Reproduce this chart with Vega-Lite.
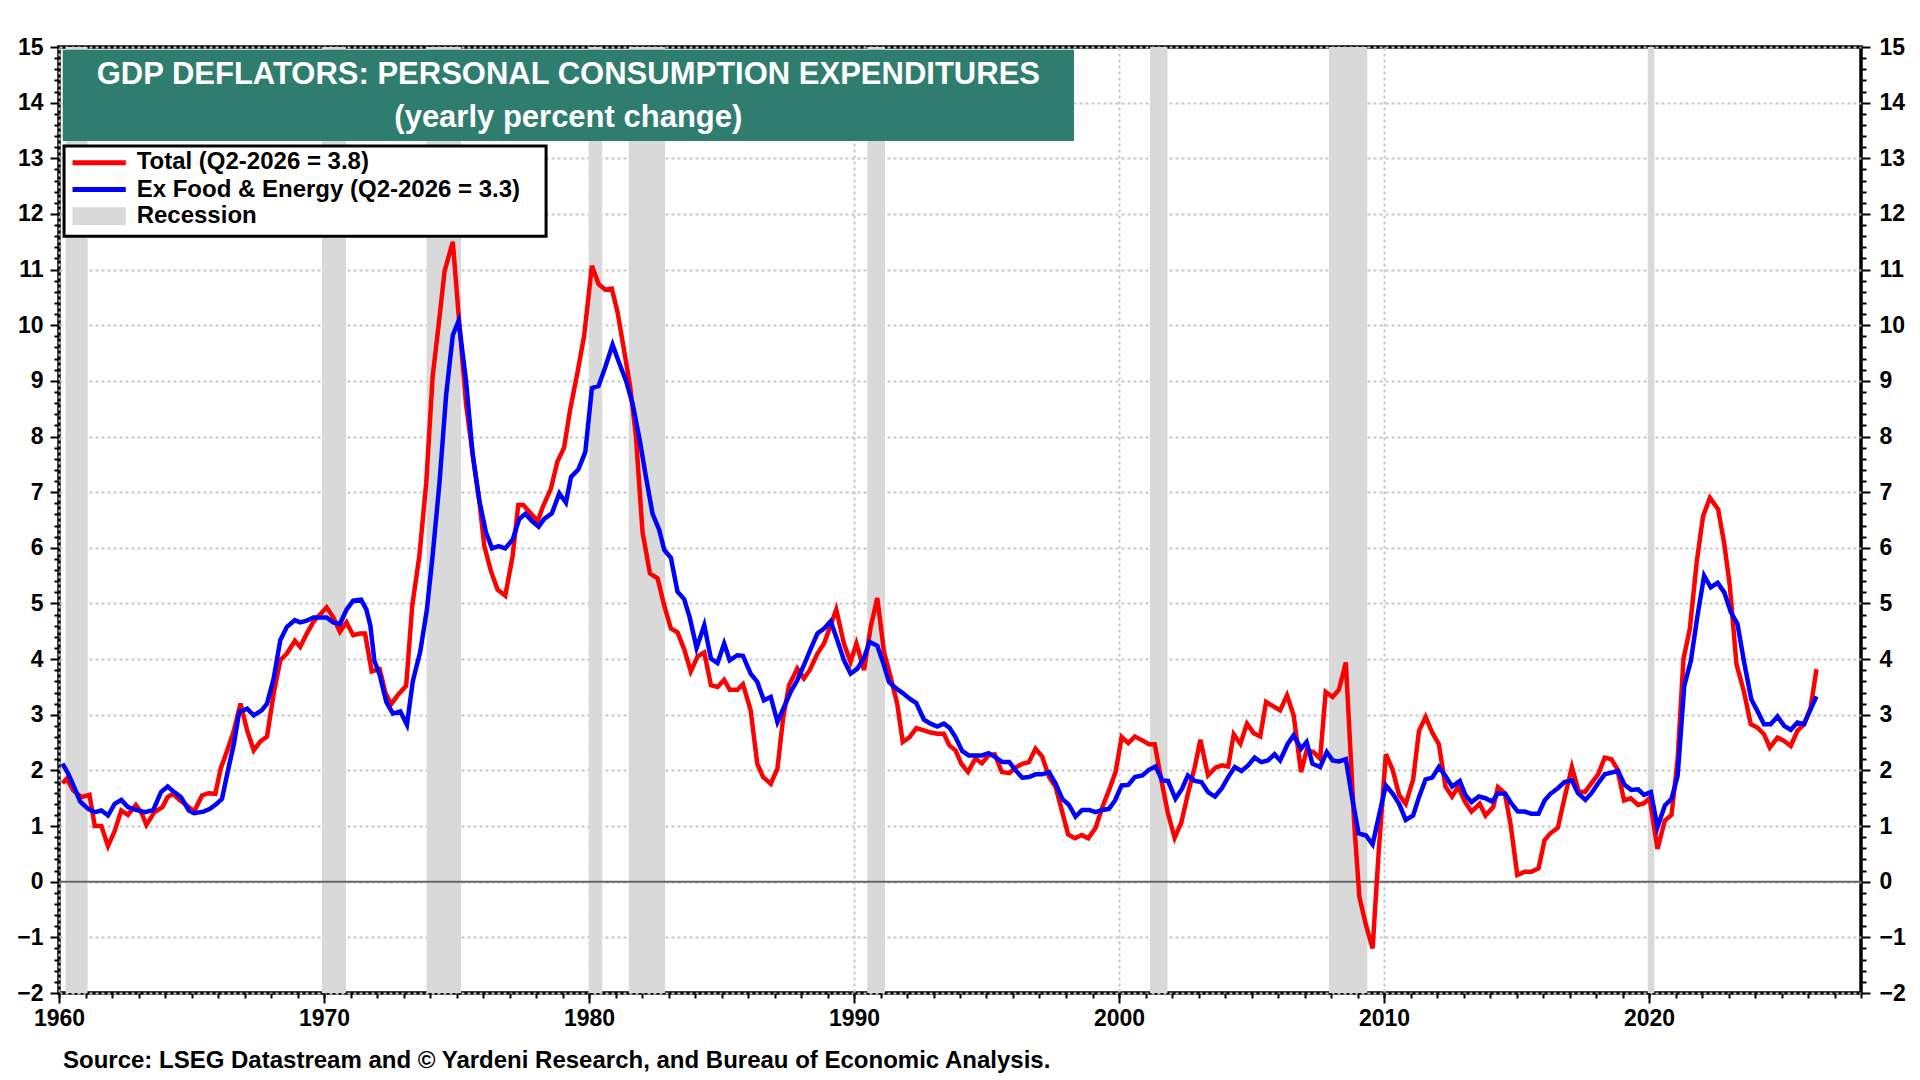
{
"$schema": "https://vega.github.io/schema/vega-lite/v6.json",
"width": 1802, "height": 946,
"autosize": {"type": "none"},
"padding": {"left": 59, "top": 47, "right": 59, "bottom": 87},
"background": "white",
"config": {"view": {"stroke": "black", "strokeWidth": 3.5}, "font": "Liberation Sans"},
"title": {"text": "Source: LSEG Datastream and © Yardeni Research, and Bureau of Economic Analysis.", "orient": "bottom", "anchor": "start", "frame": "group", "font": "Liberation Sans", "fontSize": 24, "fontWeight": "bold", "color": "black", "offset": 19, "dx": 4},
"datasets": {
"one": [{"k": 1}],
"rec": [{"start":1960.25,"end":1961.08},{"start":1969.92,"end":1970.83},{"start":1973.87,"end":1975.17},{"start":1980.0,"end":1980.5},{"start":1981.5,"end":1982.87},{"start":1990.5,"end":1991.17},{"start":2001.17,"end":2001.83},{"start":2007.92,"end":2009.37},{"start":2019.95,"end":2020.2}],
"total": [{"yr":1960.13,"val":1.77},{"yr":1960.29,"val":1.85},{"yr":1960.54,"val":1.64},{"yr":1960.85,"val":1.52},{"yr":1961.15,"val":1.56},{"yr":1961.35,"val":1.0},{"yr":1961.6,"val":1.0},{"yr":1961.85,"val":0.64},{"yr":1962.1,"val":0.91},{"yr":1962.35,"val":1.28},{"yr":1962.6,"val":1.2},{"yr":1962.9,"val":1.38},{"yr":1963.1,"val":1.25},{"yr":1963.3,"val":1.02},{"yr":1963.6,"val":1.25},{"yr":1963.9,"val":1.34},{"yr":1964.1,"val":1.52},{"yr":1964.3,"val":1.58},{"yr":1964.55,"val":1.47},{"yr":1964.8,"val":1.38},{"yr":1965.1,"val":1.26},{"yr":1965.4,"val":1.55},{"yr":1965.65,"val":1.59},{"yr":1965.9,"val":1.58},{"yr":1966.1,"val":2.03},{"yr":1966.35,"val":2.36},{"yr":1966.6,"val":2.72},{"yr":1966.85,"val":3.2},{"yr":1967.1,"val":2.72},{"yr":1967.35,"val":2.36},{"yr":1967.6,"val":2.52},{"yr":1967.85,"val":2.61},{"yr":1968.1,"val":3.38},{"yr":1968.35,"val":3.98},{"yr":1968.6,"val":4.1},{"yr":1968.9,"val":4.33},{"yr":1969.1,"val":4.22},{"yr":1969.35,"val":4.46},{"yr":1969.6,"val":4.67},{"yr":1969.85,"val":4.8},{"yr":1970.1,"val":4.93},{"yr":1970.35,"val":4.75},{"yr":1970.6,"val":4.49},{"yr":1970.85,"val":4.66},{"yr":1971.1,"val":4.43},{"yr":1971.35,"val":4.46},{"yr":1971.55,"val":4.46},{"yr":1971.8,"val":3.78},{"yr":1972.1,"val":3.82},{"yr":1972.32,"val":3.39},{"yr":1972.53,"val":3.19},{"yr":1972.78,"val":3.35},{"yr":1973.1,"val":3.52},{"yr":1973.33,"val":4.96},{"yr":1973.6,"val":5.86},{"yr":1973.86,"val":7.18},{"yr":1974.1,"val":9.08},{"yr":1974.36,"val":10.15},{"yr":1974.55,"val":10.97},{"yr":1974.86,"val":11.5},{"yr":1975.1,"val":10.07},{"yr":1975.36,"val":8.58},{"yr":1975.61,"val":7.68},{"yr":1975.86,"val":6.85},{"yr":1976.05,"val":6.03},{"yr":1976.3,"val":5.58},{"yr":1976.55,"val":5.25},{"yr":1976.84,"val":5.14},{"yr":1977.12,"val":5.86},{"yr":1977.33,"val":6.77},{"yr":1977.52,"val":6.77},{"yr":1977.8,"val":6.62},{"yr":1978.06,"val":6.48},{"yr":1978.27,"val":6.75},{"yr":1978.56,"val":7.06},{"yr":1978.81,"val":7.55},{"yr":1979.06,"val":7.8},{"yr":1979.28,"val":8.46},{"yr":1979.57,"val":9.16},{"yr":1979.82,"val":9.82},{"yr":1980.11,"val":11.07},{"yr":1980.36,"val":10.74},{"yr":1980.61,"val":10.64},{"yr":1980.86,"val":10.66},{"yr":1981.08,"val":10.23},{"yr":1981.3,"val":9.61},{"yr":1981.55,"val":8.91},{"yr":1981.77,"val":8.01},{"yr":1982.02,"val":6.28},{"yr":1982.3,"val":5.54},{"yr":1982.59,"val":5.45},{"yr":1982.84,"val":4.96},{"yr":1983.09,"val":4.55},{"yr":1983.34,"val":4.48},{"yr":1983.59,"val":4.18},{"yr":1983.84,"val":3.78},{"yr":1984.1,"val":4.05},{"yr":1984.35,"val":4.12},{"yr":1984.6,"val":3.53},{"yr":1984.85,"val":3.5},{"yr":1985.1,"val":3.63},{"yr":1985.31,"val":3.45},{"yr":1985.6,"val":3.45},{"yr":1985.81,"val":3.55},{"yr":1986.1,"val":3.08},{"yr":1986.35,"val":2.12},{"yr":1986.57,"val":1.88},{"yr":1986.86,"val":1.76},{"yr":1987.11,"val":2.03},{"yr":1987.33,"val":2.96},{"yr":1987.55,"val":3.53},{"yr":1987.86,"val":3.83},{"yr":1988.11,"val":3.65},{"yr":1988.33,"val":3.8},{"yr":1988.62,"val":4.1},{"yr":1988.87,"val":4.28},{"yr":1989.12,"val":4.61},{"yr":1989.33,"val":4.89},{"yr":1989.62,"val":4.28},{"yr":1989.87,"val":3.95},{"yr":1990.09,"val":4.28},{"yr":1990.38,"val":3.8},{"yr":1990.63,"val":4.58},{"yr":1990.88,"val":5.1},{"yr":1991.13,"val":4.13},{"yr":1991.38,"val":3.68},{"yr":1991.63,"val":3.2},{"yr":1991.84,"val":2.51},{"yr":1992.1,"val":2.6},{"yr":1992.35,"val":2.76},{"yr":1992.64,"val":2.72},{"yr":1992.89,"val":2.68},{"yr":1993.14,"val":2.66},{"yr":1993.39,"val":2.66},{"yr":1993.6,"val":2.45},{"yr":1993.83,"val":2.36},{"yr":1994.05,"val":2.12},{"yr":1994.3,"val":1.97},{"yr":1994.58,"val":2.21},{"yr":1994.83,"val":2.13},{"yr":1995.08,"val":2.27},{"yr":1995.31,"val":2.29},{"yr":1995.58,"val":1.97},{"yr":1995.86,"val":1.95},{"yr":1996.1,"val":2.05},{"yr":1996.35,"val":2.12},{"yr":1996.6,"val":2.15},{"yr":1996.85,"val":2.39},{"yr":1997.1,"val":2.25},{"yr":1997.36,"val":1.88},{"yr":1997.61,"val":1.7},{"yr":1997.86,"val":1.25},{"yr":1998.08,"val":0.85},{"yr":1998.34,"val":0.78},{"yr":1998.59,"val":0.84},{"yr":1998.84,"val":0.78},{"yr":1999.12,"val":0.97},{"yr":1999.37,"val":1.34},{"yr":1999.62,"val":1.64},{"yr":1999.87,"val":1.97},{"yr":2000.1,"val":2.6},{"yr":2000.35,"val":2.49},{"yr":2000.6,"val":2.61},{"yr":2000.88,"val":2.54},{"yr":2001.13,"val":2.47},{"yr":2001.35,"val":2.47},{"yr":2001.6,"val":1.82},{"yr":2001.85,"val":1.22},{"yr":2002.1,"val":0.79},{"yr":2002.35,"val":1.06},{"yr":2002.6,"val":1.58},{"yr":2002.86,"val":2.06},{"yr":2003.07,"val":2.55},{"yr":2003.36,"val":1.91},{"yr":2003.64,"val":2.05},{"yr":2003.89,"val":2.09},{"yr":2004.12,"val":2.07},{"yr":2004.33,"val":2.65},{"yr":2004.58,"val":2.48},{"yr":2004.83,"val":2.84},{"yr":2005.08,"val":2.67},{"yr":2005.33,"val":2.61},{"yr":2005.55,"val":3.23},{"yr":2005.83,"val":3.15},{"yr":2006.08,"val":3.08},{"yr":2006.34,"val":3.35},{"yr":2006.59,"val":2.99},{"yr":2006.87,"val":1.97},{"yr":2007.08,"val":2.36},{"yr":2007.34,"val":2.33},{"yr":2007.59,"val":2.21},{"yr":2007.8,"val":3.41},{"yr":2008.06,"val":3.32},{"yr":2008.3,"val":3.45},{"yr":2008.56,"val":3.94},{"yr":2008.76,"val":2.11},{"yr":2008.88,"val":1.02},{"yr":2009.07,"val":-0.27},{"yr":2009.32,"val":-0.78},{"yr":2009.57,"val":-1.2},{"yr":2009.8,"val":0.54},{"yr":2010.07,"val":2.29},{"yr":2010.32,"val":2.02},{"yr":2010.57,"val":1.56},{"yr":2010.82,"val":1.4},{"yr":2011.1,"val":1.84},{"yr":2011.32,"val":2.71},{"yr":2011.57,"val":2.96},{"yr":2011.82,"val":2.68},{"yr":2012.07,"val":2.47},{"yr":2012.32,"val":1.71},{"yr":2012.57,"val":1.53},{"yr":2012.8,"val":1.71},{"yr":2013.05,"val":1.44},{"yr":2013.3,"val":1.26},{"yr":2013.61,"val":1.4},{"yr":2013.83,"val":1.19},{"yr":2014.12,"val":1.34},{"yr":2014.3,"val":1.7},{"yr":2014.56,"val":1.59},{"yr":2014.78,"val":1.02},{"yr":2015.03,"val":0.12},{"yr":2015.31,"val":0.18},{"yr":2015.56,"val":0.18},{"yr":2015.83,"val":0.24},{"yr":2016.06,"val":0.75},{"yr":2016.28,"val":0.87},{"yr":2016.56,"val":0.97},{"yr":2016.81,"val":1.5},{"yr":2017.09,"val":2.06},{"yr":2017.35,"val":1.62},{"yr":2017.58,"val":1.61},{"yr":2017.83,"val":1.77},{"yr":2018.08,"val":1.93},{"yr":2018.33,"val":2.23},{"yr":2018.58,"val":2.2},{"yr":2018.8,"val":2.03},{"yr":2019.06,"val":1.46},{"yr":2019.31,"val":1.5},{"yr":2019.59,"val":1.38},{"yr":2019.81,"val":1.41},{"yr":2020.02,"val":1.5},{"yr":2020.32,"val":0.59},{"yr":2020.6,"val":1.1},{"yr":2020.85,"val":1.2},{"yr":2021.08,"val":2.2},{"yr":2021.3,"val":4.0},{"yr":2021.54,"val":4.54},{"yr":2021.8,"val":5.74},{"yr":2022.04,"val":6.57},{"yr":2022.3,"val":6.9},{"yr":2022.61,"val":6.69},{"yr":2022.84,"val":6.07},{"yr":2023.05,"val":5.32},{"yr":2023.3,"val":3.91},{"yr":2023.59,"val":3.4},{"yr":2023.84,"val":2.83},{"yr":2024.09,"val":2.77},{"yr":2024.34,"val":2.65},{"yr":2024.56,"val":2.41},{"yr":2024.85,"val":2.59},{"yr":2025.1,"val":2.53},{"yr":2025.35,"val":2.44},{"yr":2025.6,"val":2.71},{"yr":2025.85,"val":2.83},{"yr":2026.1,"val":3.13},{"yr":2026.32,"val":3.82}],
"core": [{"yr":1960.13,"val":2.12},{"yr":1960.35,"val":1.94},{"yr":1960.6,"val":1.67},{"yr":1960.8,"val":1.44},{"yr":1961.1,"val":1.31},{"yr":1961.35,"val":1.25},{"yr":1961.6,"val":1.28},{"yr":1961.85,"val":1.19},{"yr":1962.1,"val":1.4},{"yr":1962.35,"val":1.47},{"yr":1962.6,"val":1.34},{"yr":1962.9,"val":1.29},{"yr":1963.25,"val":1.25},{"yr":1963.56,"val":1.29},{"yr":1963.85,"val":1.61},{"yr":1964.1,"val":1.71},{"yr":1964.35,"val":1.61},{"yr":1964.6,"val":1.52},{"yr":1964.9,"val":1.28},{"yr":1965.1,"val":1.23},{"yr":1965.45,"val":1.26},{"yr":1965.7,"val":1.31},{"yr":1965.95,"val":1.4},{"yr":1966.15,"val":1.49},{"yr":1966.35,"val":1.94},{"yr":1966.6,"val":2.48},{"yr":1966.8,"val":3.05},{"yr":1967.1,"val":3.11},{"yr":1967.35,"val":2.99},{"yr":1967.65,"val":3.08},{"yr":1967.85,"val":3.2},{"yr":1968.1,"val":3.65},{"yr":1968.35,"val":4.34},{"yr":1968.6,"val":4.58},{"yr":1968.9,"val":4.7},{"yr":1969.1,"val":4.66},{"yr":1969.35,"val":4.69},{"yr":1969.6,"val":4.75},{"yr":1969.9,"val":4.75},{"yr":1970.1,"val":4.75},{"yr":1970.35,"val":4.66},{"yr":1970.6,"val":4.63},{"yr":1970.85,"val":4.89},{"yr":1971.1,"val":5.05},{"yr":1971.4,"val":5.07},{"yr":1971.6,"val":4.89},{"yr":1971.75,"val":4.6},{"yr":1971.9,"val":3.97},{"yr":1972.1,"val":3.72},{"yr":1972.35,"val":3.23},{"yr":1972.6,"val":3.02},{"yr":1972.88,"val":3.06},{"yr":1973.13,"val":2.82},{"yr":1973.35,"val":3.6},{"yr":1973.63,"val":4.13},{"yr":1973.88,"val":4.88},{"yr":1974.1,"val":5.86},{"yr":1974.36,"val":7.18},{"yr":1974.61,"val":8.75},{"yr":1974.86,"val":9.82},{"yr":1975.08,"val":10.08},{"yr":1975.36,"val":9.0},{"yr":1975.61,"val":7.68},{"yr":1975.86,"val":6.85},{"yr":1976.11,"val":6.28},{"yr":1976.34,"val":5.99},{"yr":1976.59,"val":6.03},{"yr":1976.84,"val":5.99},{"yr":1977.12,"val":6.15},{"yr":1977.37,"val":6.52},{"yr":1977.6,"val":6.61},{"yr":1977.85,"val":6.48},{"yr":1978.1,"val":6.38},{"yr":1978.31,"val":6.52},{"yr":1978.6,"val":6.62},{"yr":1978.88,"val":6.98},{"yr":1979.13,"val":6.81},{"yr":1979.32,"val":7.27},{"yr":1979.6,"val":7.41},{"yr":1979.86,"val":7.72},{"yr":1980.11,"val":8.87},{"yr":1980.36,"val":8.91},{"yr":1980.61,"val":9.24},{"yr":1980.89,"val":9.65},{"yr":1981.14,"val":9.32},{"yr":1981.4,"val":9.0},{"yr":1981.65,"val":8.58},{"yr":1981.92,"val":7.92},{"yr":1982.15,"val":7.27},{"yr":1982.4,"val":6.61},{"yr":1982.65,"val":6.32},{"yr":1982.84,"val":5.96},{"yr":1983.09,"val":5.82},{"yr":1983.34,"val":5.21},{"yr":1983.59,"val":5.08},{"yr":1983.8,"val":4.75},{"yr":1984.06,"val":4.2},{"yr":1984.35,"val":4.61},{"yr":1984.6,"val":4.01},{"yr":1984.85,"val":3.93},{"yr":1985.1,"val":4.28},{"yr":1985.31,"val":3.98},{"yr":1985.6,"val":4.07},{"yr":1985.81,"val":4.06},{"yr":1986.1,"val":3.74},{"yr":1986.35,"val":3.59},{"yr":1986.6,"val":3.26},{"yr":1986.86,"val":3.32},{"yr":1987.11,"val":2.87},{"yr":1987.36,"val":3.14},{"yr":1987.61,"val":3.41},{"yr":1987.86,"val":3.62},{"yr":1988.11,"val":3.89},{"yr":1988.37,"val":4.19},{"yr":1988.62,"val":4.46},{"yr":1988.87,"val":4.55},{"yr":1989.12,"val":4.68},{"yr":1989.37,"val":4.34},{"yr":1989.62,"val":3.98},{"yr":1989.87,"val":3.74},{"yr":1990.13,"val":3.83},{"yr":1990.38,"val":4.03},{"yr":1990.59,"val":4.31},{"yr":1990.88,"val":4.24},{"yr":1991.09,"val":3.95},{"yr":1991.32,"val":3.59},{"yr":1991.6,"val":3.47},{"yr":1991.84,"val":3.39},{"yr":1992.1,"val":3.29},{"yr":1992.35,"val":3.21},{"yr":1992.64,"val":2.91},{"yr":1992.89,"val":2.84},{"yr":1993.14,"val":2.79},{"yr":1993.39,"val":2.84},{"yr":1993.6,"val":2.77},{"yr":1993.83,"val":2.6},{"yr":1994.08,"val":2.35},{"yr":1994.33,"val":2.27},{"yr":1994.58,"val":2.27},{"yr":1994.83,"val":2.27},{"yr":1995.08,"val":2.31},{"yr":1995.33,"val":2.24},{"yr":1995.6,"val":2.15},{"yr":1995.86,"val":2.15},{"yr":1996.1,"val":2.0},{"yr":1996.35,"val":1.87},{"yr":1996.6,"val":1.88},{"yr":1996.85,"val":1.93},{"yr":1997.1,"val":1.93},{"yr":1997.36,"val":1.97},{"yr":1997.61,"val":1.76},{"yr":1997.86,"val":1.49},{"yr":1998.11,"val":1.38},{"yr":1998.36,"val":1.17},{"yr":1998.61,"val":1.29},{"yr":1998.87,"val":1.29},{"yr":1999.12,"val":1.25},{"yr":1999.37,"val":1.29},{"yr":1999.62,"val":1.31},{"yr":1999.85,"val":1.46},{"yr":2000.1,"val":1.73},{"yr":2000.35,"val":1.74},{"yr":2000.6,"val":1.88},{"yr":2000.88,"val":1.91},{"yr":2001.13,"val":2.01},{"yr":2001.38,"val":2.07},{"yr":2001.63,"val":1.82},{"yr":2001.85,"val":1.81},{"yr":2002.13,"val":1.49},{"yr":2002.38,"val":1.67},{"yr":2002.6,"val":1.91},{"yr":2002.86,"val":1.81},{"yr":2003.11,"val":1.79},{"yr":2003.36,"val":1.61},{"yr":2003.62,"val":1.53},{"yr":2003.87,"val":1.67},{"yr":2004.12,"val":1.88},{"yr":2004.37,"val":2.06},{"yr":2004.62,"val":1.99},{"yr":2004.87,"val":2.09},{"yr":2005.12,"val":2.23},{"yr":2005.37,"val":2.15},{"yr":2005.62,"val":2.18},{"yr":2005.87,"val":2.29},{"yr":2006.08,"val":2.18},{"yr":2006.37,"val":2.48},{"yr":2006.59,"val":2.63},{"yr":2006.87,"val":2.39},{"yr":2007.08,"val":2.51},{"yr":2007.3,"val":2.12},{"yr":2007.59,"val":2.06},{"yr":2007.84,"val":2.33},{"yr":2008.06,"val":2.18},{"yr":2008.3,"val":2.16},{"yr":2008.56,"val":2.2},{"yr":2008.8,"val":1.5},{"yr":2009.04,"val":0.87},{"yr":2009.32,"val":0.83},{"yr":2009.57,"val":0.67},{"yr":2009.83,"val":1.23},{"yr":2010.07,"val":1.73},{"yr":2010.32,"val":1.59},{"yr":2010.57,"val":1.4},{"yr":2010.82,"val":1.11},{"yr":2011.1,"val":1.19},{"yr":2011.32,"val":1.52},{"yr":2011.57,"val":1.84},{"yr":2011.82,"val":1.87},{"yr":2012.07,"val":2.06},{"yr":2012.32,"val":1.9},{"yr":2012.57,"val":1.71},{"yr":2012.86,"val":1.81},{"yr":2013.07,"val":1.56},{"yr":2013.3,"val":1.43},{"yr":2013.58,"val":1.53},{"yr":2013.83,"val":1.5},{"yr":2014.08,"val":1.44},{"yr":2014.3,"val":1.59},{"yr":2014.58,"val":1.58},{"yr":2014.8,"val":1.41},{"yr":2015.05,"val":1.26},{"yr":2015.31,"val":1.26},{"yr":2015.56,"val":1.22},{"yr":2015.83,"val":1.22},{"yr":2016.06,"val":1.46},{"yr":2016.28,"val":1.58},{"yr":2016.56,"val":1.68},{"yr":2016.81,"val":1.79},{"yr":2017.09,"val":1.82},{"yr":2017.32,"val":1.59},{"yr":2017.6,"val":1.47},{"yr":2017.83,"val":1.59},{"yr":2018.08,"val":1.77},{"yr":2018.33,"val":1.93},{"yr":2018.58,"val":1.96},{"yr":2018.83,"val":1.99},{"yr":2019.08,"val":1.74},{"yr":2019.33,"val":1.65},{"yr":2019.59,"val":1.66},{"yr":2019.81,"val":1.56},{"yr":2020.07,"val":1.61},{"yr":2020.32,"val":0.98},{"yr":2020.6,"val":1.37},{"yr":2020.85,"val":1.49},{"yr":2021.08,"val":1.9},{"yr":2021.33,"val":3.52},{"yr":2021.58,"val":3.97},{"yr":2021.83,"val":4.78},{"yr":2022.08,"val":5.5},{"yr":2022.33,"val":5.29},{"yr":2022.59,"val":5.37},{"yr":2022.84,"val":5.2},{"yr":2023.09,"val":4.84},{"yr":2023.34,"val":4.63},{"yr":2023.59,"val":3.94},{"yr":2023.86,"val":3.28},{"yr":2024.09,"val":3.07},{"yr":2024.34,"val":2.83},{"yr":2024.59,"val":2.83},{"yr":2024.85,"val":2.97},{"yr":2025.1,"val":2.8},{"yr":2025.35,"val":2.73},{"yr":2025.6,"val":2.86},{"yr":2025.85,"val":2.83},{"yr":2026.1,"val":3.1},{"yr":2026.32,"val":3.33}]
},
"resolve": {"axis": {"x": "independent", "y": "independent"}},
"layer": [
{"data": {"name": "rec"}, "mark": {"type": "rect", "color": "#D9D9D9"},
 "encoding": {"x": {"field": "start", "type": "quantitative", "scale": {"domain": [1960, 2028], "nice": false, "zero": false}, "axis": {"orient": "bottom", "values": [1960,1961,1962,1963,1964,1965,1966,1967,1968,1969,1970,1971,1972,1973,1974,1975,1976,1977,1978,1979,1980,1981,1982,1983,1984,1985,1986,1987,1988,1989,1990,1991,1992,1993,1994,1995,1996,1997,1998,1999,2000,2001,2002,2003,2004,2005,2006,2007,2008,2009,2010,2011,2012,2013,2014,2015,2016,2017,2018,2019,2020,2021,2022,2023,2024,2025,2026,2027,2028], "labels": false, "grid": false, "domain": false, "tickSize": 5, "tickWidth": 2, "tickColor": "black", "title": null}}, "x2": {"field": "end"}}},
{"data": {"name": "one"}, "mark": {"type": "rule", "color": "#666666", "strokeWidth": 2}, "encoding": {"y": {"datum": 0, "type": "quantitative", "axis": null}}},
{"data": {"name": "total"}, "mark": {"type": "line", "color": "#FF0000", "strokeWidth": 4.5},
 "encoding": {
  "x": {"field": "yr", "type": "quantitative", "scale": {"domain": [1960, 2028], "nice": false, "zero": false}, "axis": {"orient": "bottom", "values": [1960,1970,1980,1990,2000,2010,2020], "format": "d", "grid": true, "gridDash": [3,3], "gridColor": "#C8C8C8", "gridWidth": 2, "domain": false, "tickSize": 10, "tickWidth": 2, "tickColor": "black", "labelFont": "Liberation Sans", "labelFontSize": 23, "labelFontWeight": "bold", "labelColor": "black", "labelPadding": 4, "labelFlush": false, "title": null}},
  "y": {"field": "val", "type": "quantitative", "scale": {"domain": [-2, 15], "nice": false, "zero": false}, "axis": {"orient": "left", "values": [-2,-1,0,1,2,3,4,5,6,7,8,9,10,11,12,13,14,15], "grid": true, "gridDash": [3,3], "gridColor": "#C8C8C8", "gridWidth": 2, "domain": false, "tickSize": 9, "tickWidth": 2, "tickColor": "black", "labelFont": "Liberation Sans", "labelFontSize": 23, "labelFontWeight": "bold", "labelColor": "black", "labelPadding": 7, "labelFlush": false, "title": null}}}},
{"data": {"name": "core"}, "mark": {"type": "line", "color": "#0000FF", "strokeWidth": 4.5},
 "encoding": {
  "x": {"field": "yr", "type": "quantitative", "axis": null},
  "y": {"field": "val", "type": "quantitative", "axis": {"orient": "right", "values": [-2,-1,0,1,2,3,4,5,6,7,8,9,10,11,12,13,14,15], "grid": false, "domain": false, "tickSize": 9, "tickWidth": 2, "tickColor": "black", "labelFont": "Liberation Sans", "labelFontSize": 23, "labelFontWeight": "bold", "labelColor": "black", "labelPadding": 9, "labelFlush": false, "title": null}}}},
{"data": {"name": "core"}, "mark": {"type": "point", "opacity": 0},
 "encoding": {
  "x": {"field": "yr", "type": "quantitative", "axis": null},
  "y": {"field": "val", "type": "quantitative", "axis": {"orient": "left", "values": [-1.8,-1.6,-1.4,-1.2,-0.8,-0.6,-0.4,-0.2,0.2,0.4,0.6,0.8,1.2,1.4,1.6,1.8,2.2,2.4,2.6,2.8,3.2,3.4,3.6,3.8,4.2,4.4,4.6,4.8,5.2,5.4,5.6,5.8,6.2,6.4,6.6,6.8,7.2,7.4,7.6,7.8,8.2,8.4,8.6,8.8,9.2,9.4,9.6,9.8,10.2,10.4,10.6,10.8,11.2,11.4,11.6,11.8,12.2,12.4,12.6,12.8,13.2,13.4,13.6,13.8,14.2,14.4,14.6,14.8], "labels": false, "grid": false, "domain": false, "tickSize": 5, "tickWidth": 2, "tickColor": "black", "title": null}}}},
{"data": {"name": "core"}, "mark": {"type": "point", "opacity": 0},
 "encoding": {
  "x": {"field": "yr", "type": "quantitative", "axis": null},
  "y": {"field": "val", "type": "quantitative", "axis": {"orient": "right", "values": [-1.8,-1.6,-1.4,-1.2,-0.8,-0.6,-0.4,-0.2,0.2,0.4,0.6,0.8,1.2,1.4,1.6,1.8,2.2,2.4,2.6,2.8,3.2,3.4,3.6,3.8,4.2,4.4,4.6,4.8,5.2,5.4,5.6,5.8,6.2,6.4,6.6,6.8,7.2,7.4,7.6,7.8,8.2,8.4,8.6,8.8,9.2,9.4,9.6,9.8,10.2,10.4,10.6,10.8,11.2,11.4,11.6,11.8,12.2,12.4,12.6,12.8,13.2,13.4,13.6,13.8,14.2,14.4,14.6,14.8], "labels": false, "grid": false, "domain": false, "tickSize": 5, "tickWidth": 2, "tickColor": "black", "title": null}}}},
{"data": {"name": "one"}, "mark": {"type": "rect", "color": "#2F7D6F"},
 "encoding": {"x": {"datum": 1960.14, "type": "quantitative", "axis": null}, "x2": {"datum": 1998.3}, "y": {"datum": 14.95, "type": "quantitative", "axis": null}, "y2": {"datum": 13.31}}},
{"data": {"name": "one"}, "mark": {"type": "text", "text": "GDP DEFLATORS: PERSONAL CONSUMPTION EXPENDITURES", "color": "white", "font": "Liberation Sans", "fontSize": 31, "fontWeight": "bold", "align": "center", "baseline": "alphabetic"},
 "encoding": {"x": {"datum": 1979.22, "type": "quantitative", "axis": null}, "y": {"datum": 14.34, "type": "quantitative", "axis": null}}},
{"data": {"name": "one"}, "mark": {"type": "text", "text": "(yearly percent change)", "color": "white", "font": "Liberation Sans", "fontSize": 31, "fontWeight": "bold", "align": "center", "baseline": "alphabetic"},
 "encoding": {"x": {"datum": 1979.22, "type": "quantitative", "axis": null}, "y": {"datum": 13.56, "type": "quantitative", "axis": null}}},
{"data": {"name": "one"}, "mark": {"type": "rect", "fill": "white", "stroke": "black", "strokeWidth": 3},
 "encoding": {"x": {"datum": 1960.19, "type": "quantitative", "axis": null}, "x2": {"datum": 1978.38}, "y": {"datum": 13.22, "type": "quantitative", "axis": null}, "y2": {"datum": 11.6}}},
{"data": {"name": "one"}, "mark": {"type": "rule", "color": "#FF0000", "strokeWidth": 5},
 "encoding": {"x": {"datum": 1960.51, "type": "quantitative", "axis": null}, "x2": {"datum": 1962.52}, "y": {"datum": 12.92, "type": "quantitative", "axis": null}}},
{"data": {"name": "one"}, "mark": {"type": "rule", "color": "#0000FF", "strokeWidth": 5},
 "encoding": {"x": {"datum": 1960.51, "type": "quantitative", "axis": null}, "x2": {"datum": 1962.52}, "y": {"datum": 12.44, "type": "quantitative", "axis": null}}},
{"data": {"name": "one"}, "mark": {"type": "rect", "color": "#D9D9D9"},
 "encoding": {"x": {"datum": 1960.51, "type": "quantitative", "axis": null}, "x2": {"datum": 1962.52}, "y": {"datum": 12.12, "type": "quantitative", "axis": null}, "y2": {"datum": 11.8}}},
{"data": {"name": "one"}, "mark": {"type": "text", "text": "Total (Q2-2026 = 3.8)", "color": "black", "font": "Liberation Sans", "fontSize": 24, "fontWeight": "bold", "align": "left", "baseline": "alphabetic"},
 "encoding": {"x": {"datum": 1962.93, "type": "quantitative", "axis": null}, "y": {"datum": 12.8, "type": "quantitative", "axis": null}}},
{"data": {"name": "one"}, "mark": {"type": "text", "text": "Ex Food & Energy (Q2-2026 = 3.3)", "color": "black", "font": "Liberation Sans", "fontSize": 24, "fontWeight": "bold", "align": "left", "baseline": "alphabetic"},
 "encoding": {"x": {"datum": 1962.93, "type": "quantitative", "axis": null}, "y": {"datum": 12.31, "type": "quantitative", "axis": null}}},
{"data": {"name": "one"}, "mark": {"type": "text", "text": "Recession", "color": "black", "font": "Liberation Sans", "fontSize": 24, "fontWeight": "bold", "align": "left", "baseline": "alphabetic"},
 "encoding": {"x": {"datum": 1962.93, "type": "quantitative", "axis": null}, "y": {"datum": 11.83, "type": "quantitative", "axis": null}}}
]
}
